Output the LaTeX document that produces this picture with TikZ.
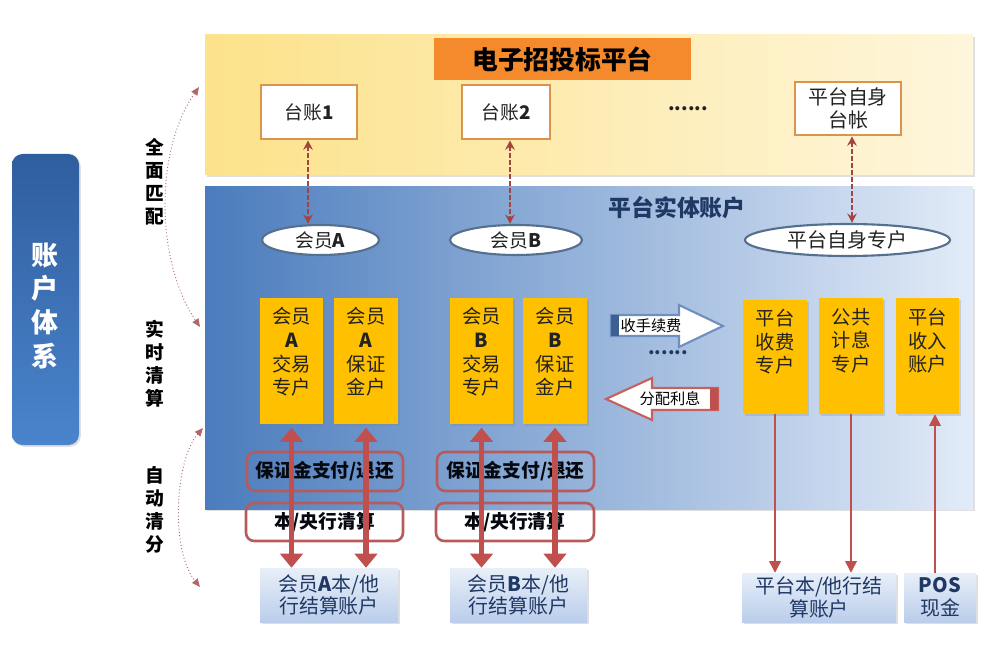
\documentclass[tikz,border=0pt]{standalone}
\usepackage{fontspec}
\setmainfont{Noto Sans CJK SC}
\usetikzlibrary{shapes.geometric,arrows.meta,shadows,calc}
\definecolor{yelL}{HTML}{FCE28A}
\definecolor{yelR}{HTML}{FEF6DC}
\definecolor{bluL}{HTML}{4B7CBD}
\definecolor{bluM}{HTML}{A9C7EF}
\definecolor{bluR}{HTML}{E2EBF8}
\definecolor{orng}{HTML}{F58A2D}
\definecolor{tanc}{HTML}{D9954B}
\definecolor{ylw}{HTML}{FFC000}
\definecolor{redc}{HTML}{C0504D}
\definecolor{rbrd}{HTML}{B85A5A}
\definecolor{ellb}{HTML}{55708F}
\definecolor{bbT}{HTML}{E8EFF9}
\definecolor{bbB}{HTML}{BACDEA}
\definecolor{navy}{HTML}{1F3864}
\definecolor{lbT}{HTML}{2F5E9E}
\definecolor{lbB}{HTML}{4A84CC}
\definecolor{dotc}{HTML}{B06868}
\definecolor{arrB}{HTML}{6F8FC0}
\definecolor{arrBd}{HTML}{3D5F94}
\definecolor{txt}{HTML}{222222}
\begin{document}
\begin{tikzpicture}[x=0.03cm,y=-0.03cm,
  sz/.style 2 args={minimum width=#1*0.03cm,minimum height=#2*0.03cm,inner sep=0pt},
  shd/.style={drop shadow={opacity=0.25,shadow xshift=1.5pt,shadow yshift=-1.5pt}},
  tbox/.style={draw=tanc,line width=2.2pt,fill=white,text=txt,align=center,
    font=\fontsize{16pt}{19pt}\selectfont},
  ell/.style={ellipse,draw=ellb,line width=1.8pt,fill=white,inner sep=0pt,text=txt,
    font=\fontsize{16pt}{19pt}\selectfont},
  ybox/.style={fill=ylw,draw=none,shd},
  ytxt/.style={align=center,text=txt,inner sep=0pt,font=\fontsize{16.5pt}{20.4pt}\selectfont},
  rbox/.style={draw=rbrd,line width=2.2pt,rounded corners=7pt,text=black!85!navy,
    font=\fontsize{16pt}{19pt}\selectfont\bfseries},
  bbox/.style={top color=bbT,bottom color=bbB,draw=none,shd,align=center,text=navy,
    font=\fontsize{17pt}{19.5pt}\selectfont},
  vlab/.style={align=center,text=black,inner sep=0pt,font=\fontsize{16pt}{19.6pt}\selectfont\bfseries},
  dasharr/.style={draw=redc!85!black,line width=1.6pt,dash pattern=on 4pt off 2pt,
    {Stealth[length=8pt,width=8pt]}-{Stealth[length=8pt,width=8pt]}},
  thickarr/.style={draw=redc,line width=4.3pt,
    {Triangle[length=12pt,width=19pt]}-{Triangle[length=12pt,width=19pt]}},
  thinarr/.style={draw=redc,line width=1.3pt,-{Triangle[length=10pt,width=10pt]}},
  dotarr/.style={draw=dotc,line width=0.8pt,dotted,
    {Triangle[length=7pt,width=6pt]}-{Triangle[length=7pt,width=6pt]}}
]
\useasboundingbox (0,0) rectangle (997,650);

% bands
\node[sz={768}{140},left color=yelL,right color=yelR,draw=none,shd] (top) at (589,105) {};
\node[sz={768}{322},left color=bluL,middle color=bluM,right color=bluR,draw=none,shd] (mid) at (589,348) {};

% left system box
\node[sz={67}{291},rounded corners=9pt,top color=lbT,bottom color=lbB,draw=none,shd] (sys) at (45.5,299.5) {};
\node[align=center,text=white,inner sep=0pt,font=\fontsize{23pt}{29pt}\selectfont\bfseries] (systxt) at (45,306) {账\\户\\体\\系};

% vertical labels
\node[vlab] (l1) at (155,182) {全\\面\\匹\\配};
\node[vlab] (l2) at (155,364) {实\\时\\清\\算};
\node[vlab] (l3) at (155,510) {自\\动\\清\\分};

% dotted arcs
\coordinate (d1a) at (199,87);
\coordinate (d1b) at (200,327);
\coordinate (d2a) at (203,428);
\coordinate (d2b) at (200,587);
\draw[dotarr] (d1a) .. controls (155,150) and (155,260) .. (d1b);
\draw[dotarr] (d2a) .. controls (175,460) and (170,550) .. (d2b);

% title
\node[sz={257}{42},fill=orng,draw=none,text=black,
  font=\fontsize{22pt}{24pt}\selectfont\bfseries] (title) at (562.5,59) {电子招投标平台};

% ledgers
\node[tbox,sz={96}{54}] (t1) at (309,112) {台账\textbf{1}};
\node[tbox,sz={88}{54}] (t2) at (506,112) {台账\textbf{2}};
\node[text=txt,font=\fontsize{16pt}{19pt}\selectfont\bfseries] (dots1) at (688,109) {......};
\node[tbox,sz={106}{53},font=\fontsize{17pt}{20pt}\selectfont] (t3) at (848,108.5) {平台自身\\台帐};

% middle title
\node[text=navy,font=\fontsize{19.5pt}{22pt}\selectfont\bfseries] (midtitle) at (677,208) {平台实体账户};

% ellipses
\node[ell,minimum width=117*0.03cm,minimum height=30*0.03cm] (mA) at (320.5,240) {会员\textbf{A}};
\node[ell,minimum width=132*0.03cm,minimum height=30*0.03cm] (mB) at (516,240) {会员\textbf{B}};
\node[ell,minimum width=205*0.03cm,minimum height=32*0.03cm,font=\fontsize{17pt}{19pt}\selectfont] (mP) at (847.5,240) {平台自身专户};

\draw[dasharr] ([xshift=-0.03cm]t1.south) -- ([xshift=-0.03cm]t1.south |- mA.north);
\draw[dasharr] ([xshift=0.12cm]t2.south) -- ([xshift=0.12cm]t2.south |- mB.north);
\draw[dasharr] ([xshift=0.12cm]t3.south) -- ([xshift=0.12cm]t3.south |- mP.north);

% yellow accounts
\node[ybox,sz={63}{126}] (yA1) at (291.5,361) {};
\node[ybox,sz={64}{126}] (yA2) at (366,361) {};
\node[ybox,sz={63}{126}] (yB1) at (481.5,361) {};
\node[ybox,sz={64}{126}] (yB2) at (555,361) {};
\node[ybox,sz={64}{114}] (yP1) at (775,357) {};
\node[ybox,sz={64}{116}] (yP2) at (851,356) {};
\node[ybox,sz={63}{116}] (yP3) at (927.5,356) {};
\node[ytxt] (yA1t) at ($(yA1.north)+(0,54)$) {会员\\\textbf{A}\\交易\\专户};
\node[ytxt] (yA2t) at ($(yA2.north)+(0,54)$) {会员\\\textbf{A}\\保证\\金户};
\node[ytxt] (yB1t) at ($(yB1.north)+(0,54)$) {会员\\\textbf{B}\\交易\\专户};
\node[ytxt] (yB2t) at ($(yB2.north)+(0,54)$) {会员\\\textbf{B}\\保证\\金户};
\node[ytxt] (yP1t) at ($(yP1.north)+(0,42)$) {平台\\收费\\专户};
\node[ytxt] (yP2t) at ($(yP2.north)+(0,43)$) {公共\\计息\\专户};
\node[ytxt] (yP3t) at ($(yP3.north)+(0,43)$) {平台\\收入\\账户};

% block arrows
\draw[draw=arrB,line width=1.8pt,fill=white,line join=miter]
  (611,315) -- (679,315) -- (679,305) -- (723,326) -- (679,347) -- (679,336) -- (611,336) -- cycle;
\fill[arrBd] (611,315) rectangle (619,336);
\node[text=black,inner sep=0pt,font=\fontsize{13pt}{15pt}\selectfont] (fee) at (651,325.5) {收手续费};
\node[text=navy,font=\fontsize{16pt}{19pt}\selectfont\bfseries] (dots2) at (668,353) {......};
\draw[draw=redc!90,line width=1.8pt,fill=white,line join=miter]
  (718,388) -- (652,388) -- (652,378) -- (606,399) -- (652,420) -- (652,410) -- (718,410) -- cycle;
\fill[redc] (710,388) rectangle (718,410);
\node[text=black,inner sep=0pt,font=\fontsize{13pt}{15pt}\selectfont] (int) at (670,399) {分配利息};

% rounded process boxes
\node[rbox,sz={156}{39}] (rA1) at (325,471.5) {保证金支付/退还};
\node[rbox,sz={157}{38}] (rA2) at (324.5,522) {本/央行清算};
\node[rbox,sz={157}{39}] (rB1) at (515.5,471.5) {保证金支付/退还};
\node[rbox,sz={158}{38}] (rB2) at (515,522) {本/央行清算};

% bottom accounts
\node[bbox,sz={138}{54}] (bA) at (329,595) {会员\textbf{A}本/他\\行结算账户};
\node[bbox,sz={137}{54}] (bB) at (518.5,595) {会员\textbf{B}本/他\\行结算账户};
\node[bbox,sz={154}{49}] (bP) at (819,597.5) {平台本/他行结\\算账户};
\node[bbox,sz={72}{49}] (bPOS) at (940,597.5) {\textbf{POS}\\现金};

% connectors
\draw[thickarr] ([yshift=-3pt]yA1.south) -- (yA1.south |- bA.north);
\draw[thickarr] ([yshift=-3pt]yA2.south) -- (yA2.south |- bA.north);
\draw[thickarr] ([yshift=-3pt]yB1.south) -- (yB1.south |- bB.north);
\draw[thickarr] ([yshift=-3pt]yB2.south) -- (yB2.south |- bB.north);
\draw[thinarr] (yP1.south) -- (yP1.south |- bP.north);
\draw[thinarr] (yP2.south) -- (yP2.south |- bP.north);
\draw[thinarr] ([xshift=-0.15cm]bPOS.north) -- ([xshift=-0.15cm]bPOS.north |- yP3.south);
\end{tikzpicture}
\end{document}
